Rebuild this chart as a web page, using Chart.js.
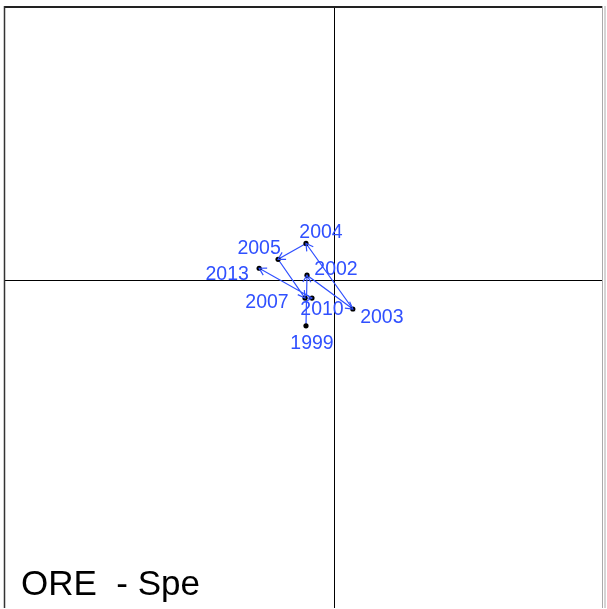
<!DOCTYPE html>
<html>
<head>
<meta charset="utf-8">
<script src="https://cdn.jsdelivr.net/npm/chart.js@4/dist/chart.umd.min.js"></script>
<style>
  html, body { margin: 0; padding: 0; background: #fff; overflow: hidden; }
</style>
</head>
<body>
<canvas id="chart" width="607" height="612"></canvas>
<script>
// years in chronological order, the trajectory follows this order
const years = ['1999', '2002', '2003', '2004', '2005', '2007', '2010', '2013'];
const xScores = [-0.28, -0.27, 0.19, -0.28, -0.56, -0.29, -0.22, -0.75];
const yScores = [-0.46, 0.05, -0.29, 0.37, 0.21, -0.18, -0.18, 0.12];
const panelTitle = 'ORE  - Spe';

// label offsets in px (dx, dy) from each point
const labelOffsets = {
  '1999': [6, 18], '2002': [29, -6], '2003': [29, 9], '2004': [15, -11],
  '2005': [-19, -11], '2007': [-38, 5], '2010': [10, 12], '2013': [-32, 6]
};

const BLUE = '#3050ff';
const pts = years.map((y, i) => ({ x: xScores[i], y: yScores[i], label: y }));

const decorPlugin = {
  id: 'decor',
  beforeDatasetsDraw(chart) {
    const { ctx, chartArea: a, scales } = chart;
    ctx.save();
    // zero axes
    const x0 = Math.round(scales.x.getPixelForValue(0)) + 0.5;
    const y0 = Math.round(scales.y.getPixelForValue(0)) + 0.5;
    ctx.strokeStyle = '#000';
    ctx.lineWidth = 1;
    ctx.beginPath();
    ctx.moveTo(x0, a.top); ctx.lineTo(x0, a.bottom);
    ctx.moveTo(a.left, y0); ctx.lineTo(a.right, y0);
    ctx.stroke();
    // frame
    ctx.strokeStyle = '#222';
    ctx.lineWidth = 2;
    ctx.beginPath();
    ctx.moveTo(a.left, 7); ctx.lineTo(a.right, 7);
    ctx.stroke();
    ctx.lineWidth = 1.5;
    ctx.strokeStyle = '#333';
    ctx.beginPath();
    ctx.moveTo(a.left + 0.5, 6); ctx.lineTo(a.left + 0.5, a.bottom);
    ctx.stroke();
    ctx.lineWidth = 1;
    ctx.strokeStyle = '#aaa';
    ctx.beginPath();
    ctx.moveTo(a.right - 0.5, 6); ctx.lineTo(a.right - 0.5, a.bottom);
    ctx.moveTo(a.right + 2, 6); ctx.lineTo(a.right + 2, a.bottom);
    ctx.stroke();
    ctx.restore();
  },
  afterDatasetsDraw(chart) {
    const { ctx, scales } = chart;
    ctx.save();
    // arrowheads along the trajectory
    ctx.strokeStyle = BLUE;
    ctx.lineWidth = 1.2;
    for (let i = 1; i < pts.length; i++) {
      const x1 = scales.x.getPixelForValue(pts[i - 1].x), y1 = scales.y.getPixelForValue(pts[i - 1].y);
      const x2 = scales.x.getPixelForValue(pts[i].x), y2 = scales.y.getPixelForValue(pts[i].y);
      const ang = Math.atan2(y2 - y1, x2 - x1);
      const len = 8, spread = Math.PI / 6;
      ctx.beginPath();
      ctx.moveTo(x2 - len * Math.cos(ang - spread), y2 - len * Math.sin(ang - spread));
      ctx.lineTo(x2, y2);
      ctx.lineTo(x2 - len * Math.cos(ang + spread), y2 - len * Math.sin(ang + spread));
      ctx.stroke();
    }
    // year labels
    ctx.fillStyle = BLUE;
    ctx.font = '19.5px "Liberation Sans", Arial, sans-serif';
    ctx.textAlign = 'center';
    ctx.textBaseline = 'middle';
    pts.forEach(p => {
      const [dx, dy] = labelOffsets[p.label];
      ctx.fillText(p.label, scales.x.getPixelForValue(p.x) + dx, scales.y.getPixelForValue(p.y) + dy);
    });
    // panel title
    ctx.fillStyle = '#000';
    ctx.font = '35px "Liberation Sans", Arial, sans-serif';
    ctx.textAlign = 'left';
    ctx.textBaseline = 'alphabetic';
    ctx.fillText(panelTitle, 21, 595);
    ctx.restore();
  }
};

new Chart(document.getElementById('chart'), {
  type: 'scatter',
  data: {
    datasets: [
      {
        data: pts,
        showLine: true,
        borderColor: BLUE,
        borderWidth: 1.2,
        pointRadius: 0,
        order: 2
      },
      {
        data: pts,
        showLine: false,
        pointRadius: 2.6,
        pointBackgroundColor: '#000',
        pointBorderWidth: 0,
        order: 1
      }
    ]
  },
  options: {
    responsive: false,
    animation: false,
    layout: { padding: { left: 3, right: 3, top: 6, bottom: 0 } },
    plugins: { legend: { display: false }, tooltip: { enabled: false } },
    scales: {
      x: { type: 'linear', min: -3.31, max: 2.70, display: false },
      y: { type: 'linear', min: -3.30, max: 2.76, display: false }
    }
  },
  plugins: [decorPlugin]
});
</script>
</body>
</html>
